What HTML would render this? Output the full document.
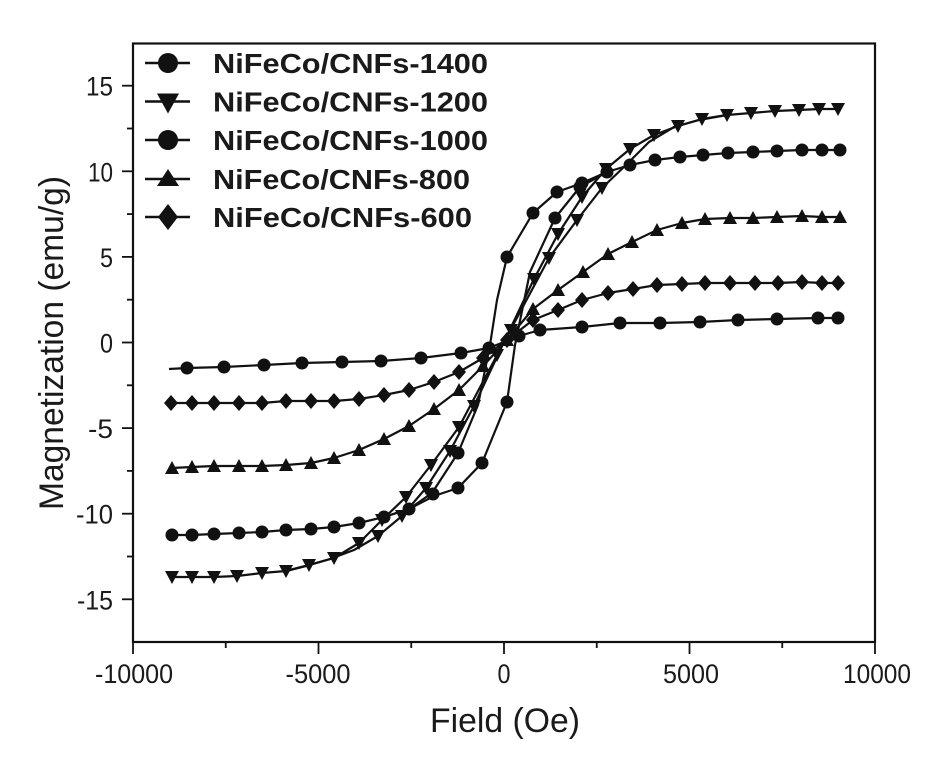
<!DOCTYPE html>
<html>
<head>
<meta charset="utf-8">
<style>
  html, body { margin:0; padding:0; background:#ffffff; }
  svg { display:block; }
  text { font-family: "Liberation Sans", Arial, sans-serif; fill:#1a1a1a; }
</style>
</head>
<body>
<svg width="926" height="757" viewBox="0 0 926 757" xmlns="http://www.w3.org/2000/svg">
  <defs>
    <circle id="c" cx="0" cy="0" r="6.5" fill="#111"/>
    <path id="dt" d="M-7,-6 L7,-6 L0,7 Z" fill="#111"/>
    <path id="ut" d="M-7,6 L7,6 L0,-7 Z" fill="#111"/>
    <path id="dm" d="M0,-8 L7,0 L0,8 L-7,0 Z" fill="#111"/>
    <circle id="lc" cx="0" cy="0" r="10" fill="#111"/>
    <path id="ldt" d="M-11,-8 L11,-8 L0,12 Z" fill="#111"/>
    <path id="lut" d="M-11,7 L11,7 L0,-10 Z" fill="#111"/>
    <path id="ldm" d="M0,-13 L10,0 L0,13 L-10,0 Z" fill="#111"/>
  </defs>

  <rect x="0" y="0" width="926" height="757" fill="#fff"/>

  <!-- axes frame -->
  <rect x="133" y="43.5" width="742" height="598.5" fill="none" stroke="#111" stroke-width="2.2"/>

  <!-- y ticks -->
  <g stroke="#111" stroke-width="1.8">
    <line x1="122" y1="85.7" x2="133" y2="85.7"/>
    <line x1="122" y1="171.3" x2="133" y2="171.3"/>
    <line x1="122" y1="256.9" x2="133" y2="256.9"/>
    <line x1="122" y1="342.5" x2="133" y2="342.5"/>
    <line x1="122" y1="428.1" x2="133" y2="428.1"/>
    <line x1="122" y1="513.7" x2="133" y2="513.7"/>
    <line x1="122" y1="599.3" x2="133" y2="599.3"/>
    <line x1="127" y1="128.5" x2="133" y2="128.5"/>
    <line x1="127" y1="214.1" x2="133" y2="214.1"/>
    <line x1="127" y1="299.7" x2="133" y2="299.7"/>
    <line x1="127" y1="385.3" x2="133" y2="385.3"/>
    <line x1="127" y1="470.9" x2="133" y2="470.9"/>
    <line x1="127" y1="556.5" x2="133" y2="556.5"/>
  </g>
  <!-- x ticks -->
  <g stroke="#111" stroke-width="1.8">
    <line x1="133" y1="642" x2="133" y2="654"/>
    <line x1="318.5" y1="642" x2="318.5" y2="654"/>
    <line x1="504" y1="642" x2="504" y2="654"/>
    <line x1="689.5" y1="642" x2="689.5" y2="654"/>
    <line x1="875" y1="642" x2="875" y2="654"/>
    <line x1="225.75" y1="642" x2="225.75" y2="648"/>
    <line x1="411.25" y1="642" x2="411.25" y2="648"/>
    <line x1="596.75" y1="642" x2="596.75" y2="648"/>
    <line x1="782.25" y1="642" x2="782.25" y2="648"/>
  </g>

  <!-- y tick labels -->
  <g font-size="27" text-anchor="end">
    <text x="113" y="95.7" textLength="27" lengthAdjust="spacingAndGlyphs">15</text>
    <text x="113" y="181.3" textLength="25" lengthAdjust="spacingAndGlyphs">10</text>
    <text x="113" y="266.9" textLength="13" lengthAdjust="spacingAndGlyphs">5</text>
    <text x="113" y="352.5" textLength="13" lengthAdjust="spacingAndGlyphs">0</text>
    <text x="113" y="438.1" textLength="25" lengthAdjust="spacingAndGlyphs">-5</text>
    <text x="113" y="523.7" textLength="37" lengthAdjust="spacingAndGlyphs">-10</text>
    <text x="113" y="609.3" textLength="36" lengthAdjust="spacingAndGlyphs">-15</text>
  </g>
  <!-- x tick labels -->
  <g font-size="27" text-anchor="middle">
    <text x="134" y="683" textLength="78" lengthAdjust="spacingAndGlyphs">-10000</text>
    <text x="318" y="683" textLength="65" lengthAdjust="spacingAndGlyphs">-5000</text>
    <text x="504" y="683" textLength="13" lengthAdjust="spacingAndGlyphs">0</text>
    <text x="691" y="683" textLength="56" lengthAdjust="spacingAndGlyphs">5000</text>
    <text x="877" y="683" textLength="68" lengthAdjust="spacingAndGlyphs">10000</text>
  </g>

  <!-- axis titles -->
  <text x="505" y="732" font-size="34" text-anchor="middle" textLength="150" lengthAdjust="spacingAndGlyphs">Field (Oe)</text>
  <text transform="translate(63,343) rotate(-90)" font-size="34" text-anchor="middle" textLength="334" lengthAdjust="spacingAndGlyphs">Magnetization (emu/g)</text>

  <!-- series lines -->
  <g fill="none" stroke="#111" stroke-width="2.2" stroke-linejoin="round">
    <!-- 1400 -->
    <polyline points="169,369 187,368 224,367 264,365 302,363 342,362 381,361 421,358 461,353 489,348 504,342 519,336 540,330 582,327 620,323 660,323 700,322 738,320 777,319 818,318 838,318"/>
    <!-- 1200 branch P -->
    <polyline points="172,577 192,577 214,577 237,576 262,573 286,571 306,566 330,559 354,550 378,536 402,516 426,488 450,451 474,406 504,342 534,279 558,234 582,197 606,169 630,149 654,135 678,126 702,119 727,115 751,113 775,111 799,110 819,109 838,109"/>
    <!-- 1200 branch Q -->
    <polyline points="286,571 309,565 334,558 359,543 382,520 406,497 431,465 459,427 504,342 549,258 577,220 602,188 626,165 649,142 674,127 699,120 727,115"/>
    <!-- 1000 branch A -->
    <polyline points="172,535 192,535 214,534 239,533 262,532 286,530 311,529 334,527 359,523 384,517 409,509 434,496 458,488 482,463 507,402 515,345 530,272 555,218 580,187 607,172 630,165 655,160 680,157 703,155 728,153 753,152 777,151 802,150 822,150 840,150"/>
    <!-- 1000 branch D -->
    <polyline points="384,517 409,509 432,493 458,453 478,405 490,345 497,300 507,257 533,213 557,192 582,183 607,172"/>
    <!-- 800 -->
    <polyline points="172,468 192,467 214,466 239,466 262,466 286,465 311,463 334,458 359,450 384,439 409,426 434,409 459,390 483,366 507,340 533,309 558,290 583,272 608,254 632,242 657,230 682,223 705,219 730,218 753,218 777,217 802,216 822,217 840,217"/>
    <!-- 600 -->
    <polyline points="171,403 192,403 214,403 239,403 262,403 286,401 311,401 334,401 359,399 384,395 409,390 434,382 459,372 483,358 507,340 533,320 558,310 582,300 608,293 633,289 657,285 682,284 705,283 730,283 755,283 778,283 802,282 822,283 838,283"/>
  </g>

  <!-- 1400 markers -->
  <g>
    <use href="#c" x="187" y="368"/><use href="#c" x="224" y="367"/><use href="#c" x="264" y="365"/>
    <use href="#c" x="302" y="363"/><use href="#c" x="342" y="362"/><use href="#c" x="381" y="361"/>
    <use href="#c" x="421" y="358"/><use href="#c" x="461" y="353"/><use href="#c" x="489" y="348"/>
    <use href="#c" x="519" y="336"/><use href="#c" x="540" y="330"/><use href="#c" x="582" y="327"/>
    <use href="#c" x="620" y="323"/><use href="#c" x="660" y="323"/><use href="#c" x="700" y="322"/>
    <use href="#c" x="738" y="320"/><use href="#c" x="777" y="319"/><use href="#c" x="818" y="318"/>
    <use href="#c" x="838" y="318"/>
  </g>
  <!-- 1200 markers -->
  <g>
    <use href="#dt" x="172" y="577"/><use href="#dt" x="192" y="577"/><use href="#dt" x="214" y="577"/>
    <use href="#dt" x="237" y="576"/><use href="#dt" x="262" y="573"/><use href="#dt" x="286" y="571"/>
    <use href="#dt" x="309" y="565"/><use href="#dt" x="334" y="558"/><use href="#dt" x="359" y="543"/>
    <use href="#dt" x="382" y="520"/><use href="#dt" x="406" y="497"/><use href="#dt" x="431" y="465"/>
    <use href="#dt" x="459" y="427"/>
    <use href="#dt" x="378" y="536"/><use href="#dt" x="402" y="516"/><use href="#dt" x="426" y="488"/>
    <use href="#dt" x="450" y="451"/><use href="#dt" x="474" y="406"/>
    <use href="#dt" x="497" y="355"/><use href="#dt" x="511" y="330"/>
    <use href="#dt" x="534" y="279"/><use href="#dt" x="558" y="234"/><use href="#dt" x="582" y="197"/>
    <use href="#dt" x="606" y="169"/><use href="#dt" x="630" y="149"/>
    <use href="#dt" x="549" y="258"/><use href="#dt" x="577" y="220"/><use href="#dt" x="602" y="188"/>
    <use href="#dt" x="654" y="135"/>
    <use href="#dt" x="678" y="126"/><use href="#dt" x="702" y="119"/><use href="#dt" x="727" y="115"/>
    <use href="#dt" x="751" y="113"/><use href="#dt" x="775" y="111"/><use href="#dt" x="799" y="110"/>
    <use href="#dt" x="819" y="109"/><use href="#dt" x="838" y="109"/>
  </g>
  <!-- 1000 markers -->
  <g>
    <use href="#c" x="172" y="535"/><use href="#c" x="192" y="535"/><use href="#c" x="214" y="534"/>
    <use href="#c" x="239" y="533"/><use href="#c" x="262" y="532"/><use href="#c" x="286" y="530"/>
    <use href="#c" x="311" y="529"/><use href="#c" x="334" y="527"/><use href="#c" x="359" y="523"/>
    <use href="#c" x="384" y="517"/><use href="#c" x="409" y="509"/><use href="#c" x="433" y="494"/>
    <use href="#c" x="458" y="488"/><use href="#c" x="458" y="453"/><use href="#c" x="482" y="463"/>
    <use href="#c" x="507" y="402"/><use href="#c" x="507" y="257"/>
    <use href="#c" x="533" y="213"/><use href="#c" x="557" y="192"/><use href="#c" x="555" y="218"/>
    <use href="#c" x="580" y="187"/>
    <use href="#c" x="582" y="183"/><use href="#c" x="607" y="172"/><use href="#c" x="630" y="165"/>
    <use href="#c" x="655" y="160"/><use href="#c" x="680" y="157"/><use href="#c" x="703" y="155"/>
    <use href="#c" x="728" y="153"/><use href="#c" x="753" y="152"/><use href="#c" x="777" y="151"/>
    <use href="#c" x="802" y="150"/><use href="#c" x="822" y="150"/><use href="#c" x="840" y="150"/>
  </g>
  <!-- 800 markers -->
  <g>
    <use href="#ut" x="172" y="468"/><use href="#ut" x="192" y="467"/><use href="#ut" x="214" y="466"/>
    <use href="#ut" x="239" y="466"/><use href="#ut" x="262" y="466"/><use href="#ut" x="286" y="465"/>
    <use href="#ut" x="311" y="463"/><use href="#ut" x="334" y="458"/><use href="#ut" x="359" y="450"/>
    <use href="#ut" x="384" y="439"/><use href="#ut" x="409" y="426"/><use href="#ut" x="434" y="409"/>
    <use href="#ut" x="459" y="390"/><use href="#ut" x="483" y="366"/><use href="#ut" x="507" y="340"/>
    <use href="#ut" x="533" y="309"/><use href="#ut" x="558" y="290"/><use href="#ut" x="583" y="272"/>
    <use href="#ut" x="608" y="254"/><use href="#ut" x="632" y="242"/><use href="#ut" x="657" y="230"/>
    <use href="#ut" x="682" y="223"/><use href="#ut" x="705" y="219"/><use href="#ut" x="730" y="218"/>
    <use href="#ut" x="753" y="218"/><use href="#ut" x="777" y="217"/><use href="#ut" x="802" y="216"/>
    <use href="#ut" x="822" y="217"/><use href="#ut" x="840" y="217"/>
  </g>
  <!-- 600 markers -->
  <g>
    <use href="#dm" x="171" y="403"/><use href="#dm" x="192" y="403"/><use href="#dm" x="214" y="403"/>
    <use href="#dm" x="239" y="403"/><use href="#dm" x="262" y="403"/><use href="#dm" x="286" y="401"/>
    <use href="#dm" x="311" y="401"/><use href="#dm" x="334" y="401"/><use href="#dm" x="359" y="399"/>
    <use href="#dm" x="384" y="395"/><use href="#dm" x="409" y="390"/><use href="#dm" x="434" y="382"/>
    <use href="#dm" x="459" y="372"/><use href="#dm" x="483" y="358"/><use href="#dm" x="507" y="340"/>
    <use href="#dm" x="533" y="320"/><use href="#dm" x="558" y="310"/><use href="#dm" x="582" y="300"/>
    <use href="#dm" x="608" y="293"/><use href="#dm" x="633" y="289"/><use href="#dm" x="657" y="285"/>
    <use href="#dm" x="682" y="284"/><use href="#dm" x="705" y="283"/><use href="#dm" x="730" y="283"/>
    <use href="#dm" x="755" y="283"/><use href="#dm" x="778" y="283"/><use href="#dm" x="802" y="282"/>
    <use href="#dm" x="822" y="283"/><use href="#dm" x="838" y="283"/>
  </g>

  <!-- legend -->
  <g stroke="#111" stroke-width="2.6">
    <line x1="145" y1="63" x2="190" y2="63"/>
    <line x1="145" y1="101.5" x2="190" y2="101.5"/>
    <line x1="145" y1="140" x2="190" y2="140"/>
    <line x1="145" y1="179" x2="190" y2="179"/>
    <line x1="145" y1="217" x2="190" y2="217"/>
  </g>
  <use href="#lc" x="168" y="63"/>
  <use href="#ldt" x="168" y="101.5"/>
  <use href="#lc" x="168" y="140"/>
  <use href="#lut" x="168" y="179"/>
  <use href="#ldm" x="168" y="217"/>
  <g font-size="28" font-weight="bold">
    <text x="213" y="73" textLength="275" lengthAdjust="spacingAndGlyphs">NiFeCo/CNFs-1400</text>
    <text x="213" y="111.5" textLength="275" lengthAdjust="spacingAndGlyphs">NiFeCo/CNFs-1200</text>
    <text x="213" y="150" textLength="275" lengthAdjust="spacingAndGlyphs">NiFeCo/CNFs-1000</text>
    <text x="213" y="189" textLength="257" lengthAdjust="spacingAndGlyphs">NiFeCo/CNFs-800</text>
    <text x="213" y="227" textLength="259" lengthAdjust="spacingAndGlyphs">NiFeCo/CNFs-600</text>
  </g>
</svg>
</body>
</html>
